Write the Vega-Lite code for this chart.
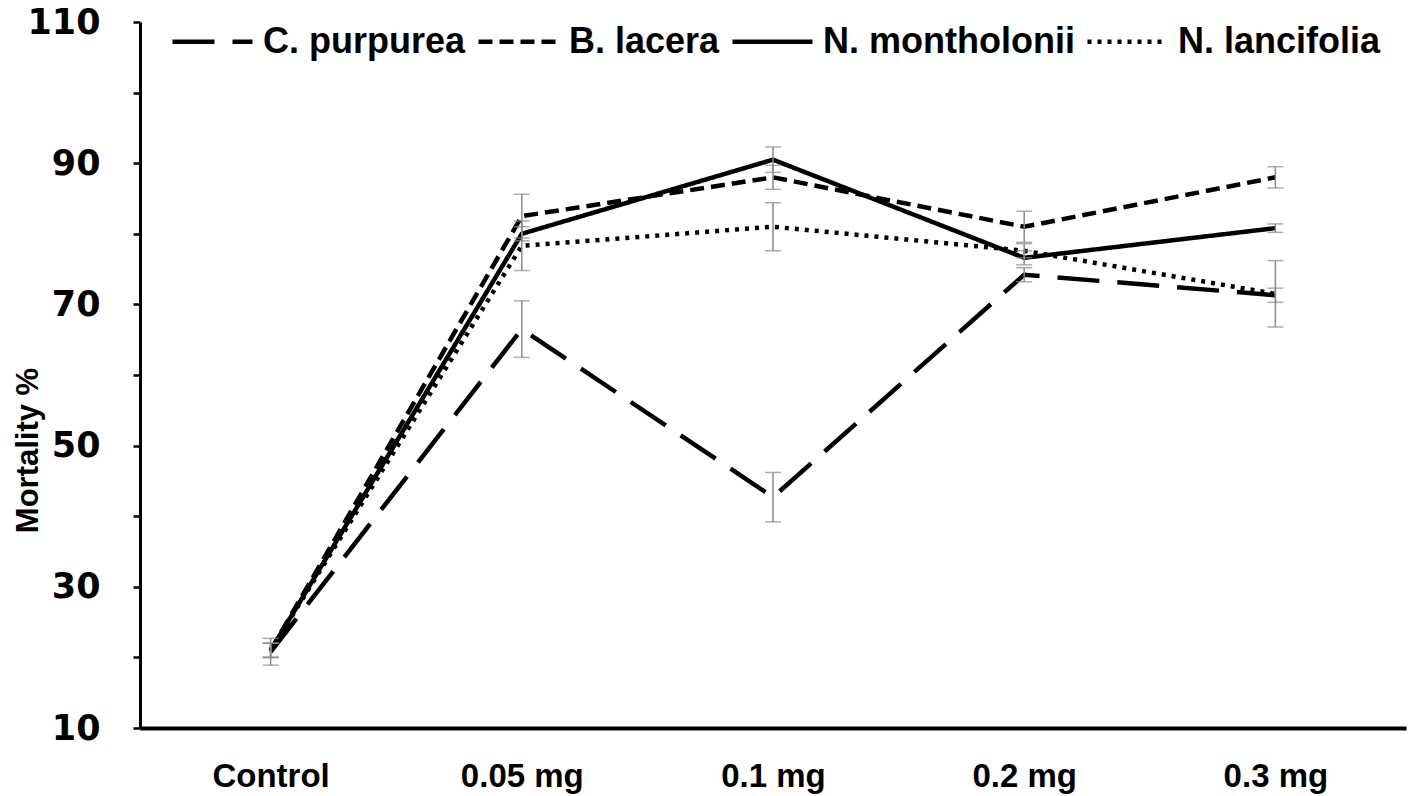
{
  "$schema": "https://vega.github.io/schema/vega-lite/v6.json",
  "width": 1266,
  "height": 706,
  "autosize": {"type": "none"},
  "padding": {"left": 140, "top": 22, "right": 12, "bottom": 68},
  "background": "white",
  "config": {"view": {"stroke": null}, "font": "Liberation Sans"},
  "data": {
    "values": [
      {"dose": "Control", "species": "C. purpurea", "mortality": 20.8, "se": 1.9},
      {"dose": "Control", "species": "B. lacera", "mortality": 21.0, "se": 1.0},
      {"dose": "Control", "species": "N. montholonii", "mortality": 21.0, "se": 1.0},
      {"dose": "Control", "species": "N. lancifolia", "mortality": 21.0, "se": 1.0},
      {"dose": "0.05 mg", "species": "C. purpurea", "mortality": 66.5, "se": 4.0},
      {"dose": "0.05 mg", "species": "B. lacera", "mortality": 82.5, "se": 3.1},
      {"dose": "0.05 mg", "species": "N. montholonii", "mortality": 80.0, "se": 1.0},
      {"dose": "0.05 mg", "species": "N. lancifolia", "mortality": 78.3, "se": 3.5},
      {"dose": "0.1 mg", "species": "C. purpurea", "mortality": 42.7, "se": 3.5},
      {"dose": "0.1 mg", "species": "B. lacera", "mortality": 88.0, "se": 1.7},
      {"dose": "0.1 mg", "species": "N. montholonii", "mortality": 90.5, "se": 1.8},
      {"dose": "0.1 mg", "species": "N. lancifolia", "mortality": 81.0, "se": 3.4},
      {"dose": "0.2 mg", "species": "C. purpurea", "mortality": 74.2, "se": 1.0},
      {"dose": "0.2 mg", "species": "B. lacera", "mortality": 81.0, "se": 2.2},
      {"dose": "0.2 mg", "species": "N. montholonii", "mortality": 76.6, "se": 1.0},
      {"dose": "0.2 mg", "species": "N. lancifolia", "mortality": 77.6, "se": 1.0},
      {"dose": "0.3 mg", "species": "C. purpurea", "mortality": 71.3, "se": 1.0},
      {"dose": "0.3 mg", "species": "B. lacera", "mortality": 88.0, "se": 1.5},
      {"dose": "0.3 mg", "species": "N. montholonii", "mortality": 80.8, "se": 0.6},
      {"dose": "0.3 mg", "species": "N. lancifolia", "mortality": 71.5, "se": 4.7}
    ]
  },
  "encoding": {
    "x": {
      "field": "dose",
      "type": "ordinal",
      "sort": ["Control", "0.05 mg", "0.1 mg", "0.2 mg", "0.3 mg"],
      "scale": {"type": "point", "padding": 0.52},
      "axis": {
        "title": null,
        "labelAngle": 0,
        "ticks": false,
        "tickSize": 0,
        "domainColor": "black",
        "domainWidth": 4,
        "labelFont": "Liberation Sans",
        "labelFontWeight": "bold",
        "labelFontSize": 33,
        "labelColor": "black",
        "labelPadding": 32
      }
    },
    "y": {
      "field": "mortality",
      "type": "quantitative",
      "scale": {"domain": [10, 110], "nice": false, "zero": false},
      "axis": {
        "values": [10, 20, 30, 40, 50, 60, 70, 80, 90, 100, 110],
        "labelExpr": "datum.value % 20 == 10 ? datum.label : ''",
        "labelOverlap": false,
        "grid": false,
        "tickSize": 7,
        "tickWidth": 2.5,
        "tickColor": "black",
        "domainColor": "black",
        "domainWidth": 3,
        "labelFont": "DejaVu Sans",
        "labelFontWeight": "bold",
        "labelFontSize": 35,
        "labelColor": "black",
        "labelPadding": 33,
        "title": "Mortality %",
        "titleFont": "Liberation Sans",
        "titleFontSize": 31,
        "titleFontWeight": "bold",
        "titleColor": "black",
        "titleX": -112,
        "titleY": 428,
        "titleBaseline": "middle"
      }
    }
  },
  "layer": [
    {
      "mark": {"type": "line", "color": "black", "strokeWidth": 4.5},
      "encoding": {
        "strokeDash": {
          "field": "species",
          "type": "nominal",
          "scale": {
            "domain": ["C. purpurea", "B. lacera", "N. montholonii", "N. lancifolia"],
            "range": [[42, 18], [14, 7], [1, 0], [4, 6]]
          },
          "legend": {
            "orient": "none",
            "legendX": 30,
            "legendY": -23,
            "direction": "horizontal",
            "title": null,
            "symbolType": "stroke",
            "symbolSize": 6400,
            "symbolStrokeWidth": 4.5,
            "symbolStrokeColor": "black",
            "labelFont": "Liberation Sans",
            "labelFontWeight": "bold",
            "labelFontSize": 36,
            "labelColor": "black",
            "labelOffset": 8,
            "columnPadding": 3,
            "labelLimit": 400
          }
        }
      }
    },
    {
      "mark": {"type": "errorbar", "ticks": {"size": 16}, "thickness": 1.5, "color": "#8a8a8a"},
      "encoding": {
        "yError": {"field": "se"}
      }
    }
  ]
}
